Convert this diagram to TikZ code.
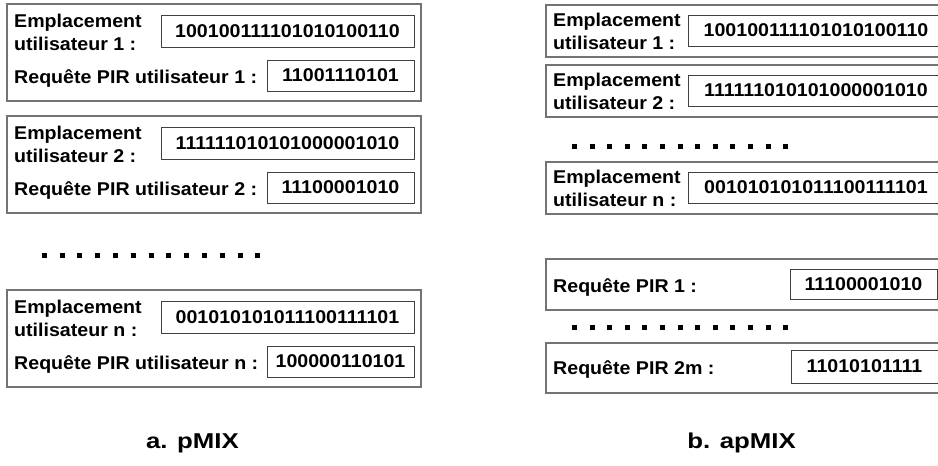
\documentclass[tikz,border=0pt]{standalone}
\usepackage{fontspec}
\setmainfont{Liberation Sans}[FakeStretch=1.06]
\newfontfamily\capfont{Liberation Sans}[FakeStretch=1.2]
\begin{document}
\begin{tikzpicture}[x=1pt,y=-1pt,
  obox/.style={draw=black!55, line width=1.3pt, anchor=north west, inner sep=0pt, outer sep=0pt},
  ibox/.style={draw=black!75, line width=0.9pt, anchor=north west, inner sep=0pt, outer sep=0pt,
    font=\fontsize{18.5}{22}\selectfont\bfseries},
  lbl/.style={anchor=base west, inner sep=0pt, font=\fontsize{18.5}{22}\selectfont\bfseries},
  captext/.style={anchor=base, inner sep=0pt, font=\capfont\fontsize{21.5}{25}\selectfont\bfseries},
  dotsA/.style={line width=5pt, dash pattern=on 5pt off 12.8pt},
  dotsB/.style={line width=5pt, dash pattern=on 5pt off 12.6pt}]
\clip (0,0) rectangle (938,466);
% ---------- left panel (pMIX) ----------
\newcommand\pblock[5]{%
  \node[obox, minimum width=414pt, minimum height=97pt] (#1) at (7,#2) {};
  \node[ibox, minimum width=253pt, minimum height=32pt] (#1loc) at (161,{#2+11}) {#4};
  \node[ibox, minimum width=147pt, minimum height=31pt] (#1req) at (267,{#2+56}) {#5};
  \node[lbl] (#1la) at (14,{#2+23}) {Emplacement};
  \node[lbl] (#1lb) at (14,{#2+46}) {utilisateur #3 :};
  \node[lbl] (#1lc) at (14,{#2+79}) {Requête PIR utilisateur #3 :};
}
\pblock{pa}{4}{1}{100100111101010100110}{11001110101}
\pblock{pb}{116}{2}{111111010101000001010}{11100001010}
\pblock{pn}{290}{n}{001010101011100111101}{100000110101}
\draw[dotsA] (41.7,255) -- (261,255);
\node[captext] (capa) at (192.5,448) {a. pMIX};
% ---------- right panel (apMIX) ----------
\newcommand\ablock[4]{%
  \node[obox, minimum width=410pt, minimum height=52pt] (#1) at (546,#2) {};
  \node[ibox, minimum width=256pt, minimum height=31pt] (#1loc) at (688,{#2+10}) {#4};
  \node[lbl] (#1la) at (553,{#2+21}) {Emplacement};
  \node[lbl] (#1lb) at (553,{#2+44}) {utilisateur #3 :};
}
\ablock{ba}{5}{1}{100100111101010100110}
\ablock{bb}{65}{2}{111111010101000001010}
\ablock{bn}{162}{n}{001010101011100111101}
\draw[dotsB] (572,146) -- (789,146);
\node[obox, minimum width=410pt, minimum height=51pt] (br1) at (546,259) {};
\node[ibox, minimum width=147pt, minimum height=30pt] (br1v) at (790,269) {11100001010};
\node[lbl] (br1l) at (553,292) {Requête PIR 1 :};
\draw[dotsB] (572,327) -- (789,327);
\node[obox, minimum width=410pt, minimum height=50pt] (br2) at (546,343) {};
\node[ibox, minimum width=147pt, minimum height=33pt] (br2v) at (791,350) {11010101111};
\node[lbl] (br2l) at (553,374) {Requête PIR 2m :};
\node[captext] (capb) at (741.5,448) {b. apMIX};
\end{tikzpicture}
\end{document}
